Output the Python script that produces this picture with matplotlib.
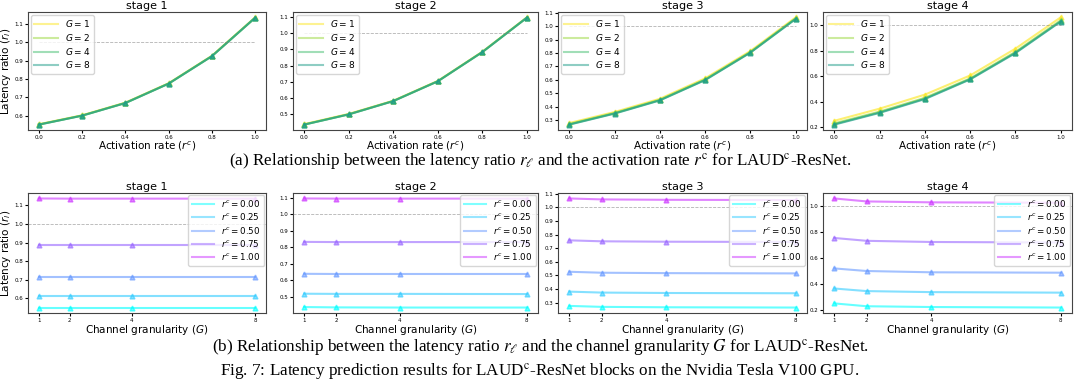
import matplotlib
matplotlib.use('Agg')
import matplotlib.pyplot as plt
import numpy as np

# activation rate sweep (top row)
act_rate = [0.0, 0.2, 0.4, 0.6, 0.8, 1.0]
g_labels = ['1', '2', '4', '8']

top_s1 = [[0.553, 0.602, 0.671, 0.777, 0.927, 1.137],
          [0.552, 0.601, 0.670, 0.776, 0.926, 1.136],
          [0.551, 0.600, 0.669, 0.775, 0.925, 1.135],
          [0.551, 0.600, 0.669, 0.775, 0.925, 1.135]]
top_s2 = [[0.440, 0.503, 0.584, 0.706, 0.886, 1.098],
          [0.438, 0.501, 0.583, 0.705, 0.885, 1.097],
          [0.437, 0.500, 0.582, 0.704, 0.884, 1.096],
          [0.437, 0.500, 0.582, 0.704, 0.884, 1.096]]
top_s3 = [[0.280, 0.362, 0.460, 0.612, 0.815, 1.065],
          [0.273, 0.355, 0.453, 0.604, 0.808, 1.058],
          [0.270, 0.352, 0.450, 0.601, 0.805, 1.055],
          [0.268, 0.350, 0.448, 0.599, 0.803, 1.053]]
top_s4 = [[0.250, 0.345, 0.455, 0.605, 0.815, 1.060],
          [0.230, 0.322, 0.430, 0.582, 0.790, 1.037],
          [0.224, 0.316, 0.424, 0.577, 0.784, 1.030],
          [0.220, 0.312, 0.420, 0.574, 0.780, 1.027]]

# channel granularity sweep (bottom row)
granularity = [1, 2, 4, 8]
rc_labels = ['0.00', '0.25', '0.50', '0.75', '1.00']

bot_s1 = [[0.551, 0.551, 0.551, 0.551],
          [0.615, 0.615, 0.615, 0.615],
          [0.717, 0.717, 0.717, 0.717],
          [0.885, 0.885, 0.885, 0.885],
          [1.137, 1.136, 1.136, 1.136]]
bot_s2 = [[0.437, 0.435, 0.434, 0.434],
          [0.518, 0.517, 0.517, 0.516],
          [0.639, 0.638, 0.638, 0.638],
          [0.833, 0.832, 0.832, 0.832],
          [1.097, 1.096, 1.096, 1.096]]
bot_s3 = [[0.275, 0.268, 0.265, 0.263],
          [0.380, 0.373, 0.370, 0.368],
          [0.526, 0.519, 0.516, 0.514],
          [0.757, 0.750, 0.747, 0.745],
          [1.065, 1.058, 1.055, 1.053]]
bot_s4 = [[0.250, 0.228, 0.222, 0.218],
          [0.365, 0.345, 0.337, 0.333],
          [0.520, 0.500, 0.490, 0.487],
          [0.755, 0.733, 0.724, 0.720],
          [1.060, 1.037, 1.030, 1.027]]

top_data = [top_s1, top_s2, top_s3, top_s4]
bot_data = [bot_s1, bot_s2, bot_s3, bot_s4]
yticks = [np.arange(0.6, 1.15, 0.1), np.arange(0.5, 1.15, 0.1),
          np.arange(0.3, 1.15, 0.1), np.arange(0.2, 1.05, 0.2)]

g_colors = [plt.cm.viridis(v) for v in [1.0, 0.85, 0.7, 0.55]]
rc_colors = [plt.cm.cool(v) for v in [0.0, 0.2, 0.4, 0.6, 0.8]]

fig = plt.figure(figsize=(10.8, 3.88), dpi=100)
W, H = 1080., 388.
lefts = [28, 293, 558, 823]
widths = [238, 245, 249, 249]

def px_axes(left, top, width, height):
    return fig.add_axes([left / W, 1 - (top + height) / H, width / W, height / H])

def style(ax, i, xlabel):
    ax.set_title('stage %d' % (i + 1), fontsize=8, pad=2)
    ax.set_xlabel(xlabel, fontsize=7.5, labelpad=0)
    if i == 0:
        ax.set_ylabel('Latency ratio ($r_l$)', fontsize=7.5, labelpad=1)
    ax.set_yticks(yticks[i])
    ax.tick_params(labelsize=4, length=2, pad=1.5)
    for sp in ax.spines.values():
        sp.set_color('#444444')

for i in range(4):
    # top row: latency ratio vs activation rate
    ax = px_axes(lefts[i], 12, widths[i], 118)
    for j, ys in enumerate(top_data[i]):
        ax.plot(act_rate, ys, '-^', color=g_colors[j], alpha=0.65, lw=1.5,
                ms=3.5, label='$G = %s$' % g_labels[j])
    ax.hlines(1.0, 0, 1, colors='gray', linestyles='--', lw=0.6, alpha=0.6)
    ax.set_xticks(act_rate)
    style(ax, i, 'Activation rate ($r^c$)')
    leg = ax.legend(loc='upper left', fontsize=6.5, handlelength=2.6,
                    labelspacing=0.3, borderaxespad=0.3)
    for h in leg.get_lines():
        h.set_marker('')
        h.set_alpha(0.5)

    # bottom row: latency ratio vs channel granularity
    ax = px_axes(lefts[i], 193, widths[i], 120)
    for j, ys in enumerate(bot_data[i]):
        ax.plot(granularity, ys, '-^', color=rc_colors[j], alpha=0.6, lw=1.5,
                ms=3.5, label='$r^c = %s$' % rc_labels[j])
    ax.axhline(1.0, color='gray', ls='--', lw=0.6, alpha=0.6)
    ax.set_xticks(granularity)
    style(ax, i, 'Channel granularity ($G$)')
    leg = ax.legend(loc='upper right', fontsize=6.3, handlelength=2.6,
                    labelspacing=0.25, borderaxespad=0.2)
    for h in leg.get_lines():
        h.set_marker('')
        h.set_alpha(0.5)

cap = dict(ha='center', va='center', fontsize=12.3, family='Liberation Serif',
           math_fontfamily='stix')
fig.text(0.5, 1 - 162 / H,
         r'(a) Relationship between the latency ratio $r_\ell$ and the activation rate '
         r'$r^{\mathrm{c}}$ for LAUD$^{\mathrm{c}}$-ResNet.', **cap)
fig.text(0.5, 1 - 348 / H,
         r'(b) Relationship between the latency ratio $r_\ell$ and the channel granularity '
         r'$G$ for LAUD$^{\mathrm{c}}$-ResNet.', **cap)
fig.text(0.5, 1 - 372 / H,
         r'Fig. 7: Latency prediction results for LAUD$^{\mathrm{c}}$-ResNet blocks '
         r'on the Nvidia Tesla V100 GPU.', **cap)

fig.savefig('out.png', dpi=100)
